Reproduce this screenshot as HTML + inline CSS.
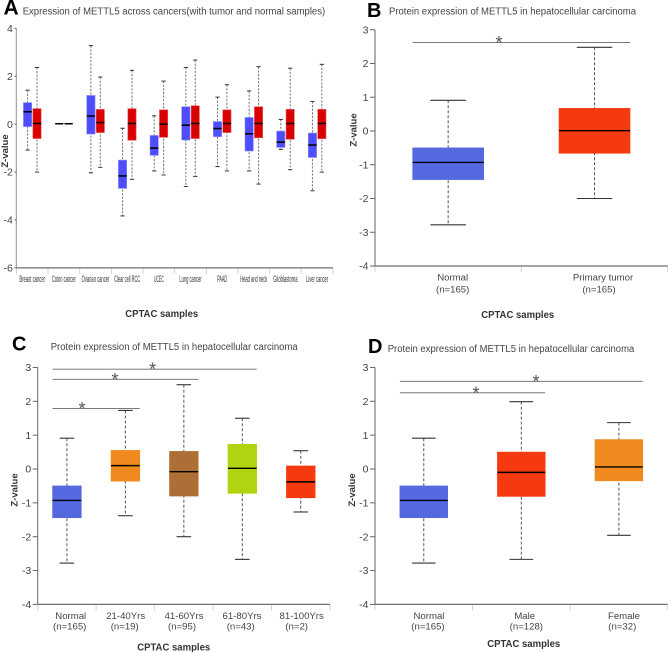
<!DOCTYPE html>
<html lang="en">
<head>
<meta charset="utf-8">
<title>METTL5 expression box plots</title>
<style>
html,body{margin:0;padding:0;background:#fff;}
svg{display:block;font-family:"Liberation Sans",sans-serif;}
</style>
</head>
<body>
<svg id="figure" xmlns="http://www.w3.org/2000/svg" width="668" height="652" viewBox="0 0 668 652">
  <rect x="0" y="0" width="668" height="652" fill="#fff"/>
  <g id="plots"></g>
  <text x="3.5" y="14.5" font-size="21" font-weight="700" fill="#000">A</text>
  <text x="367" y="17" font-size="20" font-weight="700" fill="#000">B</text>
  <text x="12" y="350.5" font-size="20" font-weight="700" fill="#000">C</text>
  <text x="368" y="353" font-size="20" font-weight="700" fill="#000">D</text>
  <text x="22.7" y="14.5" font-size="10" fill="#444" textLength="302.5" lengthAdjust="spacingAndGlyphs">Expression of METTL5 across cancers(with tumor and normal samples)</text>
  <text x="389" y="14.5" font-size="10" fill="#444" textLength="247" lengthAdjust="spacingAndGlyphs">Protein expression of METTL5 in hepatocellular carcinoma</text>
  <text x="50.7" y="349.8" font-size="10" fill="#444" textLength="247" lengthAdjust="spacingAndGlyphs">Protein expression of METTL5 in hepatocellular carcinoma</text>
  <text x="387.7" y="351.8" font-size="10" fill="#444" textLength="246.6" lengthAdjust="spacingAndGlyphs">Protein expression of METTL5 in hepatocellular carcinoma</text>
  <text transform="translate(8,151) rotate(-90)" text-anchor="middle" font-size="9.5" font-weight="700" fill="#333">Z-value</text>
  <text transform="translate(356.5,130) rotate(-90)" text-anchor="middle" font-size="9.5" font-weight="700" fill="#333">Z-value</text>
  <text transform="translate(17.5,490) rotate(-90)" text-anchor="middle" font-size="9.5" font-weight="700" fill="#333">Z-value</text>
  <text transform="translate(355,490) rotate(-90)" text-anchor="middle" font-size="9.5" font-weight="700" fill="#333">Z-value</text>
  <text x="125.2" y="317.2" font-size="10" font-weight="700" fill="#333" textLength="73" lengthAdjust="spacingAndGlyphs">CPTAC samples</text>
  <text x="481.2" y="318.2" font-size="10" font-weight="700" fill="#333" textLength="73" lengthAdjust="spacingAndGlyphs">CPTAC samples</text>
  <text x="137.2" y="650.5" font-size="10" font-weight="700" fill="#333" textLength="73" lengthAdjust="spacingAndGlyphs">CPTAC samples</text>
  <text x="487.2" y="647.2" font-size="10" font-weight="700" fill="#333" textLength="73" lengthAdjust="spacingAndGlyphs">CPTAC samples</text>
</svg>
<script>
// ---------- Panel A data ----------
var aCategories = ["Breast cancer","Colon cancer","Ovarian cancer","Clear cell RCC","UCEC","Lung cancer","PAAD","Head and neck","Glioblastoma","Liver cancer"];
var aNormalHigh   = [1.42,0.02,3.28,-0.17,0.35,2.37,1.13,1.39,0.20,0.95];
var aNormalQ3     = [0.90,0.02,1.20,-1.50,-0.47,0.73,0.11,0.28,-0.29,-0.37];
var aNormalMedian = [0.52,0.02,0.34,-2.16,-1.00,-0.04,-0.18,-0.40,-0.75,-0.87];
var aNormalQ1     = [-0.10,0.02,-0.41,-2.68,-1.30,-0.66,-0.52,-1.12,-0.97,-1.39];
var aNormalLow    = [-1.08,0.02,-2.03,-3.83,-1.95,-2.60,-1.77,-1.95,-1.05,-2.78];
var aTumorHigh    = [2.37,0.02,1.97,2.25,1.80,2.68,1.65,2.40,2.34,2.50];
var aTumorQ3      = [0.65,0.02,0.62,0.65,0.60,0.77,0.60,0.73,0.62,0.62];
var aTumorMedian  = [0.03,0.02,0.07,0.03,0.00,0.03,0.03,0.03,0.03,0.03];
var aTumorQ1      = [-0.60,0.02,-0.35,-0.67,-0.55,-0.60,-0.35,-0.57,-0.63,-0.61];
var aTumorLow     = [-2.00,0.02,-1.80,-2.30,-2.12,-2.18,-1.95,-2.50,-1.90,-2.00];
var aTicks = [4,2,0,-2,-4,-6];

// ---------- Panel B data ----------
var bCategories = ["Normal","Primary tumor"];
var bCounts = ["(n=165)","(n=165)"];
var bHigh   = [0.91,2.48];
var bQ3     = [-0.50,0.67];
var bMedian = [-0.93,0.01];
var bQ1     = [-1.44,-0.66];
var bLow    = [-2.78,-2.00];
var bSigEnd = [1];
var bSigLevel = [2.62];
var bStarAt = [0.847];

// ---------- Panel C data ----------
var cCategories = ["Normal","21-40Yrs","41-60Yrs","61-80Yrs","81-100Yrs"];
var cCounts = ["(n=165)","(n=19)","(n=95)","(n=43)","(n=2)"];
var cHigh   = [0.91,1.73,2.49,1.50,0.54];
var cQ3     = [-0.50,0.55,0.52,0.73,0.09];
var cMedian = [-0.93,0.10,-0.08,0.02,-0.38];
var cQ1     = [-1.44,-0.36,-0.80,-0.72,-0.85];
var cLow    = [-2.78,-1.38,-2.00,-2.67,-1.27];
var cSigEnd = [3,2,1];
var cSigLevel = [2.95,2.65,1.79];
var cStarAt = [1.967,1.322,0.758];

// ---------- Panel D data ----------
var dCategories = ["Normal","Male","Female"];
var dCounts = ["(n=165)","(n=128)","(n=32)"];
var dHigh   = [0.91,1.99,1.37];
var dQ3     = [-0.50,0.50,0.87];
var dMedian = [-0.93,-0.10,0.06];
var dQ1     = [-1.44,-0.81,-0.35];
var dLow    = [-2.78,-2.67,-1.96];
var dSigEnd = [2,1];
var dSigLevel = [2.59,2.25];
var dStarAt = [1.65,1.035];

var zTicks = [3,2,1,0,-1,-2,-3,-4];

var NS = "http://www.w3.org/2000/svg";
var plots = document.getElementById("plots");

function mk(tag, attrs, parent) {
  var el = document.createElementNS(NS, tag);
  for (var k in attrs) { el.setAttribute(k, attrs[k]); }
  (parent || plots).appendChild(el);
  return el;
}
function xBand(p, i) { return p.x0 + i * p.band; }
function yVal(p, v) { return p.yZero - v * p.unit; }

function drawAxes(p, ticks, count) {
  var yTop = yVal(p, ticks[0]), yBottom = yVal(p, ticks[ticks.length - 1]);
  var i, el;
  for (i = 0; i <= count; i++) {
    el = mk("line", {x1: xBand(p, i), x2: xBand(p, i), y1: yBottom, y2: yBottom + 6, stroke: "#cbd6e2", "stroke-width": 1});
    
    
  }
  el = mk("line", {x1: p.x0, x2: p.x0, y1: yTop, y2: yBottom, stroke: p.yAxisColor, "stroke-width": p.yAxisWidth});
  
  
  el = mk("line", {x1: p.x0, x2: xBand(p, count), y1: yBottom, y2: yBottom, stroke: "#6f6f6f", "stroke-width": 1.3});
  
  
  ticks.forEach(function (t) {
    var tk = mk("line", {x1: p.x0 - p.tickLen, x2: p.x0, y1: yVal(p, t), y2: yVal(p, t), stroke: "#666", "stroke-width": 1});
    
    
    var lb = mk("text", {x: p.x0 - p.tickLen - 1.5, y: yVal(p, t) + 3.6, "text-anchor": "end", "font-size": 10.5, fill: "#444"});
    lb.textContent = t;
    
    
  });
}

function drawBox(p, cx, s, i, o) {
  var g = mk("g", {});
  
  
  var hw = o.boxWidth / 2, cw = o.capWidth / 2, el;
  el = mk("line", {x1: cx, x2: cx, y1: yVal(p, s.high[i]), y2: yVal(p, s.low[i]), stroke: o.whisker, "stroke-width": 1, "stroke-dasharray": o.dash}, g);
  
  
  el = mk("line", {x1: cx - cw, x2: cx + cw, y1: yVal(p, s.high[i]), y2: yVal(p, s.high[i]), stroke: "#333", "stroke-width": o.capStroke}, g);
  
  
  el = mk("line", {x1: cx - cw, x2: cx + cw, y1: yVal(p, s.low[i]), y2: yVal(p, s.low[i]), stroke: "#333", "stroke-width": o.capStroke}, g);
  
  
  el = mk("rect", {x: cx - hw, y: yVal(p, s.q3[i]), width: o.boxWidth, height: yVal(p, s.q1[i]) - yVal(p, s.q3[i]), fill: o.fill, stroke: o.edge, "stroke-width": 0.6}, g);
  
  
  el = mk("line", {x1: cx - hw, x2: cx + hw, y1: yVal(p, s.median[i]), y2: yVal(p, s.median[i]), stroke: "#000", "stroke-width": o.medianStroke}, g);
  
  
}

function drawLabels(p, names, counts, opt) {
  names.forEach(function (n, i) {
    var cx = xBand(p, i + 0.5);
    var a = mk("text", {x: cx + opt.nameShift[i], y: opt.nameY, "text-anchor": "middle", "font-size": 9.6, fill: "#444"});
    a.textContent = n;
    
    
    var b = mk("text", {x: cx + opt.countShift[i], y: opt.countY, "text-anchor": "middle", "font-size": 9.6, fill: "#444"});
    b.textContent = counts[i];
    
    
  });
}

function drawSig(p, ends, levels, stars, o) {
  ends.forEach(function (e, i) {
    var y = yVal(p, levels[i]);
    var l = mk("line", {x1: xBand(p, 0.5) - o.boxWidth / 2, x2: xBand(p, e + 0.5) + o.boxWidth / 2, y1: y, y2: y, stroke: "#666", "stroke-width": 0.9});
    
    
    var s = mk("text", {x: xBand(p, stars[i]), y: y + 6.5, "text-anchor": "middle", "font-size": 18, fill: "#555"});
    s.textContent = "*";
    
    
  });
}

// Panel A
var pA = {x0: 16.4, band: 31.65, yZero: 124.2, unit: 23.95, yAxisColor: "#a8a8a8", yAxisWidth: 1.3, tickLen: 2};
drawAxes(pA, aTicks, aCategories.length);
var aNormal = {high: aNormalHigh, q3: aNormalQ3, median: aNormalMedian, q1: aNormalQ1, low: aNormalLow};
var aTumor = {high: aTumorHigh, q3: aTumorQ3, median: aTumorMedian, q1: aTumorQ1, low: aTumorLow};
aCategories.forEach(function (c, i) {
  var base = {boxWidth: 8.3, capWidth: 4.2, capStroke: 1, medianStroke: 1.5, whisker: "#777", dash: "2.2,1.4"};
  base.name = "normal";
  base.fill = "#4d4dfa";
  base.edge = "#8a8afc";
  drawBox(pA, xBand(pA, i) + 11.2, aNormal, i, base);
  var t = {boxWidth: 8.3, capWidth: 4.2, capStroke: 1, medianStroke: 1.5, whisker: "#777", dash: "2.2,1.4"};
  t.name = "tumor";
  t.fill = "#d80000";
  t.edge = "#ea6060";
  drawBox(pA, xBand(pA, i) + 20.6, aTumor, i, t);
  var widths = [25.7,24,27.7,26,9.7,22.3,10,27,24.3,22];
  var lb = mk("text", {x: xBand(pA, i + 0.5), y: 282, "text-anchor": "middle", "font-size": 9.5, fill: "#333", textLength: widths[i], lengthAdjust: "spacingAndGlyphs"});
  lb.textContent = c;
  
  
});

// Panels B, C, D
function drawPanel(p, stats, names, counts, fills, boxOpt, labelOpt, sig) {
  drawAxes(p, zTicks, names.length);
  names.forEach(function (n, i) {
    var o = {boxWidth: boxOpt.boxWidth, capWidth: boxOpt.capWidth, capStroke: 1.1, medianStroke: 1.4, whisker: "#555", dash: "3,2"};
    o.name = n.toLowerCase().replace(/\s+/g, "-");
    o.fill = fills[i];
    o.edge = fills[i];
    drawBox(p, xBand(p, i + 0.5), stats, i, o);
  });
  drawLabels(p, names, counts, labelOpt);
  drawSig(p, sig.ends, sig.levels, sig.stars, boxOpt);
}

drawPanel(
  {x0: 375, band: 146.35, yZero: 131, unit: 33.75, yAxisColor: "#a8a8a8", yAxisWidth: 1.8, tickLen: 5},
  {high: bHigh, q3: bQ3, median: bMedian, q1: bQ1, low: bLow},
  bCategories, bCounts, ["#5468e0", "#f43a0e"],
  {boxWidth: 71, capWidth: 35.5},
  {nameShift: [4.5, 8.5], countShift: [4.5, 4.5], nameY: 280.5, countY: 292.5},
  {ends: bSigEnd, levels: bSigLevel, stars: bStarAt}
);

drawPanel(
  {x0: 37.7, band: 58.46, yZero: 469, unit: 33.85, yAxisColor: "#666", yAxisWidth: 1, tickLen: 5},
  {high: cHigh, q3: cQ3, median: cMedian, q1: cQ1, low: cLow},
  cCategories, cCounts, ["#5468e0", "#f08a1e", "#ad6f35", "#b0d510", "#f43a0e"],
  {boxWidth: 28.7, capWidth: 14.6},
  {nameShift: [3.8, 0.3, 0.2, -0.3, 0.9], countShift: [2.8, -0.7, -1.8, -1.6, -4.1], nameY: 619, countY: 629.5},
  {ends: cSigEnd, levels: cSigLevel, stars: cStarAt}
);

drawPanel(
  {x0: 375, band: 97.55, yZero: 469, unit: 33.85, yAxisColor: "#a8a8a8", yAxisWidth: 1.8, tickLen: 5},
  {high: dHigh, q3: dQ3, median: dMedian, q1: dQ1, low: dLow},
  dCategories, dCounts, ["#5468e0", "#f43a0e", "#f08a1e"],
  {boxWidth: 47.8, capWidth: 23.6},
  {nameShift: [5.2, 3.4, 5.1], countShift: [4.2, 5, 3.4], nameY: 618.8, countY: 629.5},
  {ends: dSigEnd, levels: dSigLevel, stars: dStarAt}
);
</script>
</body>
</html>
